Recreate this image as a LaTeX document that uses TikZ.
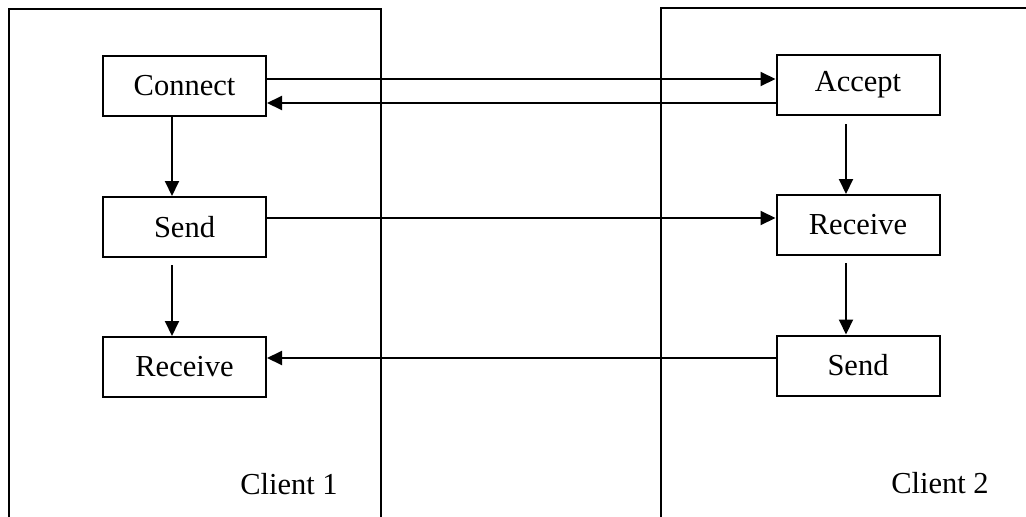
\documentclass[tikz,border=0pt]{standalone}
\usepackage{fontspec}
\setmainfont{Liberation Serif}
\usetikzlibrary{arrows.meta}
\tikzset{
  stage/.style={draw, line width=2pt, minimum width=163pt, minimum height=60pt,
    inner sep=0pt, font=\fontsize{30.5}{36}\selectfont},
  flow/.style={line width=2pt, -{Triangle[length=15pt,width=14pt]}},
  frame/.style={line width=2pt},
  caption/.style={font=\fontsize{30.5}{36}\selectfont, inner sep=0pt}
}
\begin{document}
\begin{tikzpicture}[x=1pt,y=-1pt]
\useasboundingbox (0,0) rectangle (1026,517);

% the two client panels
\draw[frame] (9,517) -- (9,9) -- (381,9) -- (381,517);
\draw[frame] (661,517) -- (661,8) -- (1026,8);

% client 1 steps
\node[stage] (connect) at (184.5,86) {Connect};
\node[stage] (send1)   at (184.5,227) {Send};
\node[stage] (recv1)   at (184.5,367) {Receive};

% client 2 steps
\node[stage] (accept)  at (858,85) {Accept};
\node[stage] (recv2)   at (858,225) {Receive};
\node[stage] (send2)   at (858,365.5) {Send};

\node[caption] (c1) at (289,484) {Client 1};
\node[caption] (c2) at (940,483) {Client 2};

% rows and columns used by the connectors
\coordinate (rowA) at (0,79);
\coordinate (rowB) at (0,103);
\coordinate (rowC) at (0,218);
\coordinate (rowD) at (0,358);
\coordinate (colL) at (172,0);
\coordinate (colR) at (846,0);

% messages between the clients
\draw[flow] (connect.east |- rowA) -- (accept.west |- rowA);
\draw[flow] (accept.west |- rowB) -- (connect.east |- rowB);
\draw[flow] (send1.east |- rowC) -- (recv2.west |- rowC);
\draw[flow] (send2.west |- rowD) -- (recv1.east |- rowD);

% order of steps inside each client
\draw[flow] (connect.south -| colL) -- (send1.north -| colL);
\draw[flow, shorten <=7pt] (send1.south -| colL) -- (recv1.north -| colL);
\draw[flow, shorten <=8pt] (accept.south -| colR) -- (recv2.north -| colR);
\draw[flow, shorten <=7pt] (recv2.south -| colR) -- (send2.north -| colR);
\end{tikzpicture}
\end{document}
